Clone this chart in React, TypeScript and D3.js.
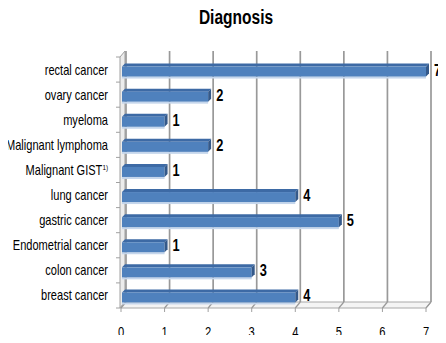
import React from "react";
import * as d3 from "d3";

const categories = [
  "rectal cancer",
  "ovary cancer",
  "myeloma",
  "Malignant lymphoma",
  "Malignant GIST",
  "lung cancer",
  "gastric cancer",
  "Endometrial cancer",
  "colon cancer",
  "breast cancer",
];
const values = [7, 2, 1, 2, 1, 4, 5, 1, 3, 4];
const superscripts = ["", "", "", "", "1)", "", "", "", "", ""];
const xTicks = [0, 1, 2, 3, 4, 5, 6, 7];
const title = "Diagnosis";

const W = 446;
const H = 343;
const FONT = "'Liberation Sans', Arial, sans-serif";

export default function App() {
  const x = d3.scaleLinear().domain([0, 7]).range([121, 426]);
  const floorY = 308;
  const topY = 57;
  const dx = 5;
  const dy = -6;
  const y = d3.scaleBand<string>().domain(categories).range([topY, floorY]).paddingInner(0).paddingOuter(0);
  const barH = 10;
  const bdx = 3;
  const bdy = -3;

  return (
    <div style={{ margin: -8 }}>
      <svg width={W} height={H} style={{ display: "block", background: "#fff" }}>
        <text
          transform={`translate(236,24) scale(0.74,1)`}
          textAnchor="middle"
          fontFamily={FONT}
          fontWeight="bold"
          fontSize={21}
          fill="#000"
        >
          {title}
        </text>
        {/* left wall */}
        <polygon
          points={`${x(0) - 1},${topY} ${x(0) - 1 + dx},${topY + dy} ${x(0) - 1 + dx},${floorY + dy} ${x(0) - 1},${floorY}`}
          fill="#ececec"
          stroke="#a0a0a0"
          strokeWidth={1}
        />
        {/* floor */}
        <polygon
          points={`${x(0) - 1},${floorY} ${x(7)},${floorY} ${x(7) + dx},${floorY + dy} ${x(0) - 1 + dx},${floorY + dy}`}
          fill="#f4f4f4"
          stroke="#a8a8a8"
          strokeWidth={1}
        />
        {/* back wall gridlines */}
        {xTicks.map((t) => (
          <line key={"g" + t} x1={x(t) + dx} x2={x(t) + dx} y1={topY + dy} y2={floorY + dy} stroke="#999999" strokeWidth={1.7} />
        ))}
        {/* floor slanted ticks */}
        {xTicks.map((t) => (
          <line key={"s" + t} x1={x(t)} x2={x(t) + dx} y1={floorY} y2={floorY + dy} stroke="#999999" strokeWidth={1.2} />
        ))}
        {/* x axis tick marks */}
        {xTicks.map((t) => (
          <line key={"xt" + t} x1={x(t)} x2={x(t)} y1={floorY} y2={floorY + 4} stroke="#a0a0a0" strokeWidth={1} />
        ))}
        {/* left axis ticks */}
        {d3.range(categories.length + 1).map((i) => {
          const yy = topY + i * y.step();
          return <line key={"lt" + i} x1={x(0) - 5} x2={x(0) - 1} y1={yy} y2={yy} stroke="#a0a0a0" strokeWidth={1} />;
        })}
        {/* bars */}
        {categories.map((c, i) => {
          const v = values[i];
          const cy = (y(c) as number) + y.bandwidth() / 2 + 1;
          const x0 = x(0) + 1;
          const x1 = x(v);
          const yTop = cy - barH / 2 + 1;
          const yBot = yTop + barH;
          return (
            <g key={c}>
              <rect x={x0} y={yBot} width={x1 - x0} height={2} fill="#c5d6ec" />
              <polygon
                points={`${x0},${yTop} ${x0 + bdx},${yTop + bdy} ${x1 + bdx},${yTop + bdy} ${x1},${yTop}`}
                fill="#3d6aa5"
              />
              <rect x={x0} y={yTop} width={x1 - x0} height={barH} fill="#4f81bd" />
              <polygon
                points={`${x1},${yTop} ${x1 + bdx},${yTop + bdy} ${x1 + bdx},${yBot + bdy} ${x1},${yBot}`}
                fill="#34598a"
              />
              <text
                transform={`translate(${x1 + 8},${cy + 5}) scale(0.8,1)`}
                fontFamily={FONT}
                fontWeight="bold"
                fontSize={16}
                fill="#000"
              >
                {v}
              </text>
            </g>
          );
        })}
        {/* category labels */}
        {categories.map((c, i) => {
          const cy = (y(c) as number) + y.bandwidth() / 2 + 1;
          return (
            <text
              key={"l" + c}
              transform={`translate(108,${cy + 4}) scale(0.79,1)`}
              textAnchor="end"
              fontFamily={FONT}
              fontSize={14}
              fill="#000"
            >
              {c}
              {superscripts[i] ? (
                <tspan fontSize={8} dy={-5}>
                  {superscripts[i]}
                </tspan>
              ) : null}
            </text>
          );
        })}
        {/* x tick labels */}
        {xTicks.map((t) => (
          <text
            key={"xl" + t}
            transform={`translate(${x(t)},337) scale(0.8,1)`}
            textAnchor="middle"
            fontFamily={FONT}
            fontSize={14}
            fill="#000"
          >
            {t}
          </text>
        ))}
      </svg>
    </div>
  );
}
